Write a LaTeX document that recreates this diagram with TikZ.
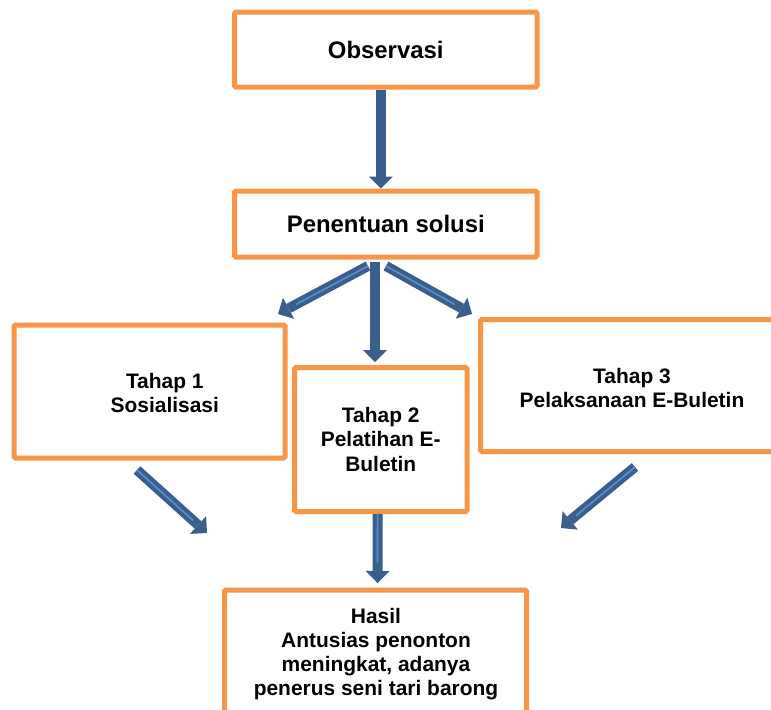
\documentclass[tikz,border=0pt]{standalone}
\usepackage{fontspec}
\setmainfont{Liberation Sans}
\usetikzlibrary{arrows.meta, calc}
\definecolor{boxorange}{HTML}{F79646}
\definecolor{arrowblue}{HTML}{3A5F8E}
\definecolor{stripeblue}{HTML}{5E8DCB}
\tikzstyle{box} = [rectangle, draw=boxorange, line width=0.125cm, rounded corners=1pt, fill=white, inner sep=0pt, align=center, font=\fontsize{14.9}{17.1}\selectfont\bfseries]
\tikzstyle{bigbox} = [box, font=\fontsize{17}{19.5}\selectfont\bfseries]
\tikzstyle{txt} = [align=center, inner sep=0pt, font=\fontsize{14.9}{17.1}\selectfont\bfseries]
\tikzstyle{barrow} = [draw=arrowblue, line width=0.25cm, -{Triangle[length=0.3cm, width=0.6cm, line width=0pt]}]
\tikzstyle{stripe} = [stripeblue, line width=0.04cm]

\begin{document}
\begin{tikzpicture}
        \useasboundingbox (0,0) rectangle (19.275,-17.75);
        \clip (0,0) rectangle (19.275,-17.75);
        \node [bigbox, minimum width=7.5625cm, minimum height=1.875cm] at (9.644,-1.2375) (obs) {Observasi};
        \node [bigbox, minimum width=7.5625cm, minimum height=1.65cm] at (9.644,-5.6) (sol) {Penentuan solusi};
        \node [box, minimum width=6.775cm, minimum height=3.325cm] at (3.7375,-9.7875) (t1) {};
        \node [box, minimum width=4.3125cm, minimum height=3.6cm] at (9.519,-10.9875) (t2) {Tahap 2\\Pelatihan E-\\Buletin};
        \node [box, minimum width=7.6125cm, minimum height=3.3cm] at (15.819,-9.6375) (t3) {};
        \node [box, minimum width=7.55cm, minimum height=3.4cm] at (9.3875,-16.45) (hasil) {};
        \node [txt] at (4.12,-9.83) (t1txt) {Tahap 1\\Sosialisasi};
        \node [txt] at (15.8,-9.7) (t3txt) {Tahap 3\\Pelaksanaan E-Buletin};
        \node [txt] at (9.4,-16.35) (hasiltxt) {Hasil\\Antusias penonton\\meningkat, adanya\\penerus seni tari barong};
        % arrow ends
        \coordinate (solL) at (9.2,-6.65);
        \coordinate (solM) at (9.375,-6.55);
        \coordinate (solR) at (9.65,-6.65);
        \coordinate (toT1) at (6.95,-7.85);
        \coordinate (toT2) at (9.375,-9.05);
        \coordinate (toT3) at (11.8,-7.85);
        \coordinate (t1out) at (3.425,-11.75);
        \coordinate (t3out) at (15.875,-11.675);
        \coordinate (hasilL) at (5.175,-13.325);
        \coordinate (hasilR) at (14.025,-13.2);
        \coordinate (hasilM) at (9.4375,-14.575);
        \draw [barrow] ([xshift=-0.12cm]obs.south) -- ([xshift=-0.12cm]sol.north);
        \draw [barrow] (solL) -- (toT1);
        \draw [barrow] (solM) -- (toT2);
        \draw [barrow] (solR) -- (toT3);
        \draw [barrow] (t1out) -- (hasilL);
        \draw [barrow] ([xshift=-0.08cm]t2.south) -- (hasilM);
        \draw [barrow] (t3out) -- (hasilR);
        \draw [stripe] (solL) -- ($(solL)!0.8!(toT1)$);
        \draw [stripe] (solR) -- ($(solR)!0.8!(toT3)$);
        \draw [stripe] (t1out) -- ($(t1out)!0.8!(hasilL)$);
        \draw [stripe] (t3out) -- ($(t3out)!0.8!(hasilR)$);
        \draw [stripe] ([xshift=-0.08cm]t2.south) -- ($([xshift=-0.08cm]t2.south)!0.7!(hasilM)$);
\end{tikzpicture}
\end{document}
